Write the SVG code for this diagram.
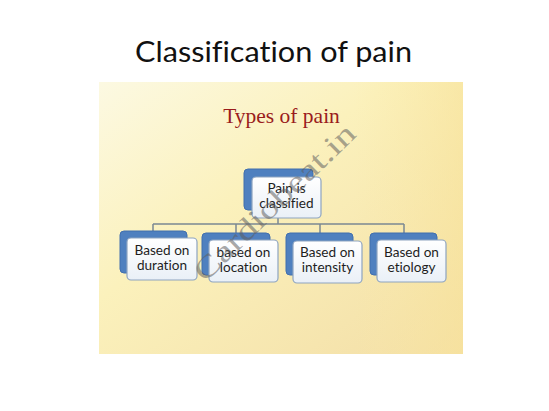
<svg xmlns="http://www.w3.org/2000/svg" width="549" height="411" viewBox="0 0 549 411">
<defs>
<linearGradient id="bg" x1="0" y1="0" x2="1" y2="1">
<stop offset="0" stop-color="#fcf9e2"/>
<stop offset="0.4" stop-color="#fbf1bc"/>
<stop offset="1" stop-color="#f3dea6"/>
</linearGradient>
<linearGradient id="bg2" x1="0" y1="0" x2="1" y2="0">
<stop offset="0" stop-color="#fdfbe8" stop-opacity="0.0"/>
<stop offset="0.7" stop-color="#fbeaa5" stop-opacity="0.0"/>
<stop offset="1" stop-color="#f8e39a" stop-opacity="0.6"/>
</linearGradient>
<linearGradient id="card" x1="0" y1="0" x2="0" y2="1">
<stop offset="0" stop-color="#ffffff"/>
<stop offset="1" stop-color="#eaf0f7"/>
</linearGradient>
<style>
text{font-variant-ligatures:none;font-feature-settings:"liga" 0,"dlig" 0}
.back{fill:#4f80bf;stroke:#416fae;stroke-width:1}
.front{fill:url(#card);stroke:#8ea4c0;stroke-width:1.2}
.lbl{font-family:Lato,"Liberation Sans",sans-serif;font-size:13.6px;fill:#1e1e1e;text-anchor:middle}
.conn{fill:none;stroke:#7b8893;stroke-width:1.5}
</style>
</defs>
<rect width="549" height="411" fill="#ffffff"/>
<text x="273.5" y="62" font-family="Lato,'Noto Sans',sans-serif" font-size="29" fill="#111" text-anchor="middle" textLength="277" lengthAdjust="spacingAndGlyphs">Classification of pain</text>
<rect x="99" y="82" width="364" height="272" fill="url(#bg)"/>
<rect x="99" y="82" width="364" height="272" fill="url(#bg2)"/>
<text x="281.5" y="123" font-family="'Liberation Serif',serif" font-size="21.5" fill="#9a1c1c" text-anchor="middle">Types of pain</text>

<g id="connectors">
<path class="conn" d="M278 218 V224 M153 224 H404 M153 224 V231 M236 224 V233 M320 224 V233 M404 224 V233"/>
</g>

<g id="root">
<rect class="back" x="244" y="169" width="69" height="41" rx="4"/>
<rect class="front" x="252" y="177" width="69" height="41" rx="4"/>
<text class="lbl" x="286.5" y="193">Pain is</text>
<text class="lbl" x="286.5" y="208">classified</text>
</g>
<g id="duration">
<rect class="back" x="120" y="231" width="67" height="42" rx="4"/>
<rect class="front" x="127" y="238" width="70" height="42" rx="4"/>
<text class="lbl" x="162" y="255">Based on</text>
<text class="lbl" x="162" y="270">duration</text>
</g>
<g id="location">
<rect class="back" x="202" y="233" width="68" height="42" rx="4"/>
<rect class="front" x="209" y="240" width="69" height="42" rx="4"/>
<text class="lbl" x="243.5" y="257">based on</text>
<text class="lbl" x="243.5" y="272">location</text>
</g>
<g id="intensity">
<rect class="back" x="286" y="233" width="67" height="42" rx="4"/>
<rect class="front" x="293" y="241" width="69" height="42" rx="4"/>
<text class="lbl" x="327.5" y="257">Based on</text>
<text class="lbl" x="327.5" y="272">intensity</text>
</g>
<g id="etiology">
<rect class="back" x="370" y="233" width="67" height="42" rx="4"/>
<rect class="front" x="377" y="240" width="69" height="42" rx="4"/>
<text class="lbl" x="411.5" y="257">Based on</text>
<text class="lbl" x="411.5" y="272">etiology</text>
</g>

<text x="0" y="0" transform="translate(205,283) rotate(-44)" font-family="'Liberation Serif',serif" font-size="30" fill="#5e5e5e" fill-opacity="0.55" textLength="212" lengthAdjust="spacingAndGlyphs">Cardiobeat.in</text>
</svg>
